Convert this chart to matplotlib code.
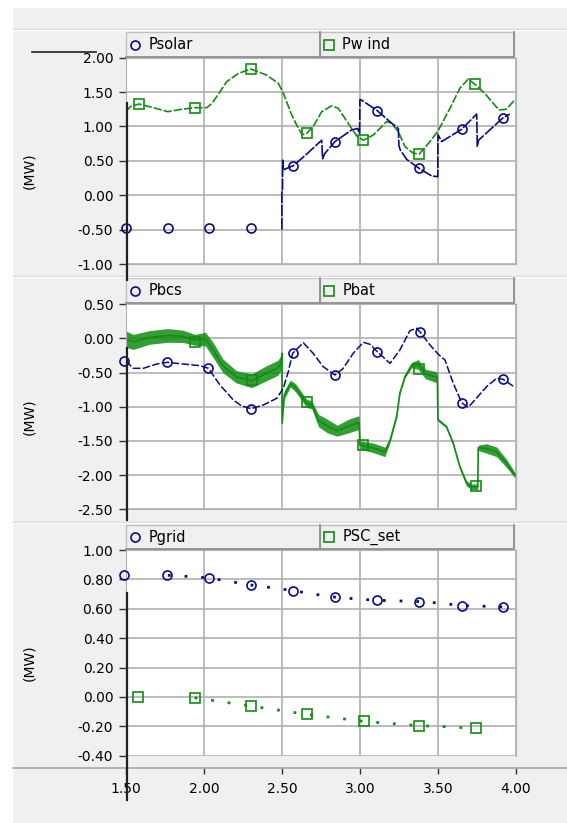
import numpy as np
import matplotlib
matplotlib.use('Agg')
import matplotlib.pyplot as plt
from matplotlib.patches import Rectangle
from matplotlib.lines import Line2D

plt.rcParams['font.family'] = ['DejaVu Sans']
plt.rcParams['axes.unicode_minus'] = False

# ---- data (time in s, power in MW) ----
# Panel 1: Psolar / Pwind
psolar_t = [2.500, 2.500, 2.504, 2.505, 2.510, 2.573, 2.650, 2.755, 2.761, 2.776, 2.840, 2.947,
            2.985, 2.998, 3.000, 3.010, 3.111, 3.192, 3.246, 3.250, 3.258, 3.300, 3.380, 3.460,
            3.499, 3.500, 3.524, 3.652, 3.748, 3.752, 3.760, 3.919, 3.960]
psolar_p = [-0.50, 0.08, 0.08, 0.51, 0.37, 0.43, 0.58, 0.80, 0.53, 0.61, 0.78, 0.95,
            0.97, 0.90, 1.39, 1.385, 1.23, 1.07, 0.97, 0.72, 0.66, 0.52, 0.39, 0.28,
            0.27, 0.88, 0.78, 0.96, 1.18, 0.71, 0.80, 1.13, 1.18]
psolar_mk_t = [1.50, 1.77, 2.03, 2.30, 2.573, 2.84, 3.111, 3.38, 3.652, 3.919]
psolar_mk_p = [-0.48, -0.48, -0.48, -0.48, 0.425, 0.78, 1.23, 0.39, 0.96, 1.13]

pwind_t = [1.500, 1.530, 1.585, 1.676, 1.770, 1.868, 1.943, 2.018, 2.050, 2.082, 2.146, 2.220,
           2.300, 2.400, 2.477, 2.510, 2.563, 2.595, 2.630, 2.659, 2.700, 2.755, 2.819, 2.861,
           2.925, 2.980, 3.022, 3.086, 3.171, 3.203, 3.246, 3.289, 3.342, 3.380, 3.449, 3.500,
           3.577, 3.640, 3.694, 3.737, 3.800, 3.891, 3.937, 3.996]
pwind_p = [1.215, 1.29, 1.327, 1.273, 1.215, 1.254, 1.273, 1.273, 1.33, 1.433, 1.65, 1.77,
           1.835, 1.75, 1.628, 1.48, 1.167, 1.02, 0.88, 0.90, 0.997, 1.215, 1.30, 1.264,
           1.046, 0.86, 0.80, 0.876, 1.07, 1.046, 0.924, 0.706, 0.61, 0.60, 0.78, 0.934,
           1.264, 1.555, 1.69, 1.613, 1.48, 1.24, 1.25, 1.395]
pwind_mk_t = [1.585, 1.943, 2.302, 2.659, 3.022, 3.380, 3.737]
pwind_mk_p = [1.327, 1.273, 1.835, 0.90, 0.80, 0.60, 1.613]

# Panel 2: Pbcs / Pbat
pbcs_t = [1.500, 1.548, 1.612, 1.698, 1.766, 1.868, 1.975, 2.029, 2.103, 2.189, 2.242, 2.302,
          2.381, 2.467, 2.509, 2.541, 2.569, 2.637, 2.700, 2.765, 2.840, 2.893, 2.957, 3.022,
          3.064, 3.111, 3.193, 3.256, 3.320, 3.363, 3.385, 3.449, 3.500, 3.545, 3.598, 3.652,
          3.694, 3.812, 3.876, 3.918, 3.993]
pbcs_p = [-0.33, -0.437, -0.437, -0.374, -0.349, -0.374, -0.398, -0.437, -0.68, -0.90, -0.988, -1.028,
          -0.974, -0.876, -0.73, -0.486, -0.217, -0.062, -0.217, -0.413, -0.535, -0.437, -0.217, -0.056,
          -0.085, -0.194, -0.364, -0.169, 0.114, 0.149, 0.095, -0.096, -0.227, -0.315, -0.656, -0.94,
          -1.008, -0.705, -0.583, -0.598, -0.715]
pbcs_mk_t = [1.49, 1.766, 2.029, 2.302, 2.569, 2.840, 3.111, 3.385, 3.652, 3.918]
pbcs_mk_p = [-0.33, -0.349, -0.437, -1.028, -0.217, -0.535, -0.194, 0.095, -0.94, -0.598]

pbat_t = [1.500, 1.548, 1.652, 1.770, 1.868, 1.943, 2.010, 2.060, 2.122, 2.207, 2.306, 2.400,
          2.474, 2.497, 2.500, 2.502, 2.515, 2.554, 2.587, 2.659, 2.692, 2.734, 2.790, 2.854,
          2.929, 2.995, 3.000, 3.085, 3.160, 3.193, 3.235, 3.256, 3.288, 3.331, 3.373, 3.420,
          3.496, 3.500, 3.554, 3.597, 3.640, 3.683, 3.715, 3.755, 3.758, 3.812, 3.876, 3.940,
          3.993]
pbat_p = [-0.01, -0.05, 0.015, 0.045, 0.03, -0.02, -0.01, -0.17, -0.40, -0.56, -0.62, -0.51,
          -0.43, -0.35, -0.22, -1.24, -0.83, -0.66, -0.72, -0.95, -0.97, -1.20, -1.28, -1.35,
          -1.28, -1.23, -1.56, -1.60, -1.66, -1.49, -1.145, -0.80, -0.56, -0.39, -0.38, -0.52,
          -0.57, -1.19, -1.29, -1.53, -1.876, -2.12, -2.17, -2.17, -1.60, -1.61, -1.66, -1.83,
          -2.00]
# half width of the ripple band around Pbat
pbat_rip = [0.12, 0.11, 0.10, 0.10, 0.09, 0.08, 0.10, 0.11, 0.10, 0.09, 0.10, 0.11,
            0.11, 0.11, 0.0, 0.0, 0.06, 0.05, 0.06, 0.06, 0.06, 0.09, 0.10, 0.08,
            0.10, 0.10, 0.06, 0.07, 0.07, 0.03, 0.02, 0.02, 0.02, 0.04, 0.07, 0.07,
            0.08, 0.02, 0.02, 0.02, 0.02, 0.04, 0.04, 0.04, 0.04, 0.07, 0.07, 0.06,
            0.04]
pbat_mk_t = [1.943, 2.306, 2.659, 3.020, 3.380, 3.743]
pbat_mk_p = [-0.047, -0.608, -0.925, -1.56, -0.447, -2.155]

# Panel 3: Pgrid / PSC_set
pgrid_t = [1.77, 1.90, 2.03, 2.30, 2.571, 2.70, 2.842, 3.00, 3.111, 3.381, 3.50, 3.651, 3.919, 4.00]
pgrid_p = [0.828, 0.82, 0.81, 0.762, 0.724, 0.70, 0.679, 0.665, 0.658, 0.649, 0.64, 0.622, 0.613, 0.612]
pgrid_mk_t = [1.49, 1.762, 2.031, 2.302, 2.571, 2.842, 3.111, 3.381, 3.651, 3.919]
pgrid_mk_p = [0.828, 0.828, 0.81, 0.762, 0.724, 0.679, 0.658, 0.649, 0.622, 0.613]

psc_t = [1.941, 2.302, 2.661, 3.023, 3.381, 3.50, 3.743]
psc_p = [-0.006, -0.062, -0.119, -0.166, -0.196, -0.20, -0.214]
psc_mk_t = [1.581, 1.941, 2.302, 2.661, 3.023, 3.381, 3.743]
psc_mk_p = [0.001, -0.006, -0.062, -0.119, -0.166, -0.196, -0.214]

x_ticks = [1.5, 2.0, 2.5, 3.0, 3.5, 4.0]
y_ticks = [np.arange(-1.0, 2.01, 0.5), np.arange(-2.5, 0.51, 0.5), np.arange(-0.4, 1.01, 0.2)]
labels = [('Psolar', 'Pw ind'), ('Pbcs', 'Pbat'), ('Pgrid', 'PSC_set')]

NAVY = '#0a0a8c'
GREEN = '#128c12'
W, H = 567, 823

def fx(x):
    return x / W

def fy(y):
    return 1 - y / H

fig = plt.figure(figsize=(W / 100, H / 100), dpi=100, facecolor='white')

# gray frame behind everything
fig.add_artist(Rectangle((fx(13), 0), 1 - fx(13), fy(8), transform=fig.transFigure,
                         fc='#f0f0f0', ec='none', zorder=-10))
for ys in [29, 276, 522]:
    fig.add_artist(Line2D([fx(13), 1], [fy(ys), fy(ys)], color='#d4d4d4', lw=1, transform=fig.transFigure))
    fig.add_artist(Line2D([fx(13), 1], [fy(ys + 1), fy(ys + 1)], color='white', lw=1, transform=fig.transFigure))
fig.add_artist(Line2D([fx(13), 1], [fy(768), fy(768)], color='#a8a8a8', lw=1.2, transform=fig.transFigure))

# plot area pixel extents (top, bottom) and legend top
panels = [(57.7, 264.0, 32.3), (304.3, 509.3, 278.3), (550.0, 755.7, 525.0)]
x0, x1 = 125.8, 516.0

axes = []
for i, (top, bot, ltop) in enumerate(panels):
    ax = fig.add_axes([fx(x0), fy(bot), (x1 - x0) / W, (bot - top) / H])
    ax.set_xlim(1.5, 4.0)
    ax.set_ylim(y_ticks[i][0], y_ticks[i][-1])
    ax.set_yticks(y_ticks[i])
    ax.set_yticklabels(['%.2f' % v for v in y_ticks[i]])
    ax.set_xticks(x_ticks)
    ax.grid(True, color='#b0b0b0', lw=1.2)
    ax.set_axisbelow(True)
    for s in ax.spines.values():
        s.set_color('#b0b0b0')
    ax.tick_params(axis='y', direction='out', length=5, width=1, pad=4, labelsize=10, color='#303030')
    if i < 2:
        ax.tick_params(axis='x', bottom=False, labelbottom=False)
    else:
        ax.spines['bottom'].set_position(('outward', 9))
        ax.spines['bottom'].set_visible(False)
        ax.tick_params(axis='x', direction='out', length=4, width=1, pad=6, labelsize=10, color='#303030')
        ax.set_xticklabels(['%.2f' % v for v in x_ticks])
    fig.text(fx(29), fy((top + bot) / 2 + 10), '(MW)', rotation=90, ha='center', va='center', fontsize=10)

    # legend bar made of two bevelled cells
    h = 24.4
    cells = [(125.8, 319.7), (319.7, 514.3)]
    for j, (c0, c1) in enumerate(cells):
        fig.add_artist(Rectangle((fx(c0), fy(ltop + h)), (c1 - c0) / W, h / H, transform=fig.transFigure,
                                 fc='#f0f0f0', ec='#c0c0c0', lw=1))
        fig.add_artist(Line2D([fx(c0), fx(c1), fx(c1)], [fy(ltop + h), fy(ltop + h), fy(ltop)],
                              color='#909090', lw=1.3, transform=fig.transFigure))
        col = NAVY if j == 0 else GREEN
        mk = 'o' if j == 0 else 's'
        fig.add_artist(Line2D([fx(c0 + 9.5)], [fy(ltop + h / 2)], marker=mk, mfc='none', mec=col,
                              ms=6.5, mew=1.2, transform=fig.transFigure))
        fig.text(fx(c0 + 22.5), fy(ltop + h / 2), labels[i][j], ha='left', va='center', fontsize=10.5)
    axes.append(ax)

mk_kw = dict(ls='none', mfc='none', ms=6.5, mew=1.2, clip_on=False, zorder=5)

# panel 1
ax = axes[0]
ax.plot(pwind_t, pwind_p, color=GREEN, lw=1.2, ls=(0, (5, 1.2)))
ax.plot(pwind_mk_t, pwind_mk_p, marker='s', mec=GREEN, **mk_kw)
ax.plot(psolar_t, psolar_p, color=NAVY, lw=1.2, ls=(0, (7, 1.0)))
ax.plot(psolar_mk_t, psolar_mk_p, marker='o', mec=NAVY, **mk_kw)

# panel 2
ax = axes[1]
lo = np.array(pbat_p) - np.array(pbat_rip)
hi = np.array(pbat_p) + np.array(pbat_rip)
ax.fill_between(pbat_t, lo, hi, color=GREEN, alpha=0.85, lw=0)
ax.plot(pbat_t, pbat_p, color=GREEN, lw=1.2)
ax.plot(pbat_mk_t, pbat_mk_p, marker='s', mec=GREEN, **mk_kw)
ax.plot(pbcs_t, pbcs_p, color=NAVY, lw=1.1, ls=(0, (5, 1.5)))
ax.plot(pbcs_mk_t, pbcs_mk_p, marker='o', mec=NAVY, **mk_kw)

# panel 3
ax = axes[2]
ax.plot(pgrid_t, pgrid_p, color=NAVY, lw=2, ls=(0, (1, 5)))
ax.plot(pgrid_mk_t, pgrid_mk_p, marker='o', mec=NAVY, **mk_kw)
ax.plot(psc_t, psc_p, color=GREEN, lw=2, ls=(0, (1, 5)))
ax.plot(psc_mk_t, psc_mk_p, marker='s', mec=GREEN, **mk_kw)

# black cursor marks seen in the screenshot
for ya, yb in [(103, 280), (348, 520), (593, 800)]:
    fig.add_artist(Line2D([fx(127), fx(127)], [fy(ya), fy(yb)], color='#202020', lw=1.6,
                          transform=fig.transFigure, zorder=20))
fig.add_artist(Line2D([fx(31.7), fx(96)], [fy(51.7), fy(51.7)], color='#202020', lw=1.2,
                      transform=fig.transFigure, zorder=20))

fig.savefig('out.png', dpi=100)
